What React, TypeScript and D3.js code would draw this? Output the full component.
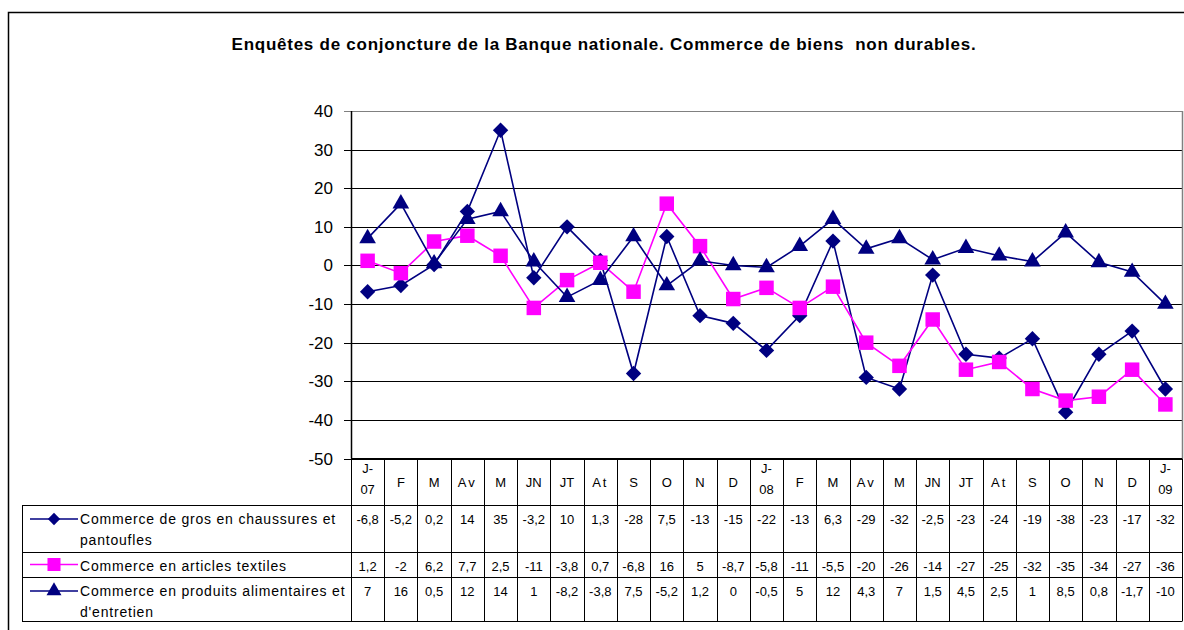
import React from 'react'
import * as d3 from 'd3'

const months = ['J-\n07', 'F', 'M', 'Av', 'M', 'JN', 'JT', 'At', 'S', 'O', 'N', 'D', 'J-\n08', 'F', 'M', 'Av', 'M', 'JN', 'JT', 'At', 'S', 'O', 'N', 'D', 'J-\n09']

const chaussures = [-6.8, -5.2, 0.2, 14, 35, -3.2, 10, 1.3, -28, 7.5, -13, -15, -22, -13, 6.3, -29, -32, -2.5, -23, -24, -19, -38, -23, -17, -32]
const textiles = [1.2, -2, 6.2, 7.7, 2.5, -11, -3.8, 0.7, -6.8, 16, 5, -8.7, -5.8, -11, -5.5, -20, -26, -14, -27, -25, -32, -35, -34, -27, -36]
const alimentaires = [7, 16, 0.5, 12, 14, 1, -8.2, -3.8, 7.5, -5.2, 1.2, 0, -0.5, 5, 12, 4.3, 7, 1.5, 4.5, 2.5, 1, 8.5, 0.8, -1.7, -10]

const yTicks = [40, 30, 20, 10, 0, -10, -20, -30, -40, -50]

const NAVY = '#000080'
const PINK = '#FF00FF'
const FONT = '"Liberation Sans", Arial, sans-serif'

const series = [
  { key: 'gros', label: ['Commerce de gros en chaussures et', 'pantoufles'], values: chaussures, color: NAVY, marker: 'diamond' },
  { key: 'tex', label: ['Commerce en articles textiles'], values: textiles, color: PINK, marker: 'square' },
  { key: 'alim', label: ['Commerce en produits alimentaires et', "d'entretien"], values: alimentaires, color: NAVY, marker: 'triangle' },
]

const fmt = (v: number) => String(v).replace('.', ',')

function markerPath(kind: string) {
  if (kind === 'diamond') return d3.symbol(d3.symbolSquare, 118)()
  if (kind === 'square') return d3.symbol(d3.symbolSquare, 210)()
  return d3.symbol(d3.symbolTriangle, 120)()
}

export default function App() {
  const left = 351
  const right = 1182
  const top = 111
  const bottom = 458.5
  const rows = [
    { y0: 505, y1: 552 },
    { y0: 552, y1: 577 },
    { y0: 577, y1: 621 },
  ]
  const legendLeft = 22

  const x = d3.scaleBand<number>().domain(months.map((_, i) => i)).range([left, right])
  const y = d3.scaleLinear().domain([-50, 40]).range([bottom, top])
  const cx = (i: number) => (x(i) as number) + x.bandwidth() / 2

  const line = d3.line<number>().x((_, i) => cx(i)).y(d => y(d))

  const colEdges = months.map((_, i) => x(i) as number).concat([right])

  return (
    <svg width={1184} height={630} style={{ position: 'absolute', left: 0, top: 0, background: '#fff' }} fontFamily={FONT}>
      <rect x={0} y={0} width={1184} height={630} fill="#fff" />
      {/* outer frame (clipped on right / bottom) */}
      <path d="M8.5,640 V12.5 H1200" fill="none" stroke="#000" strokeWidth={1.5} />

      <text x={604} y={50} textAnchor="middle" fontSize={17} fontWeight="bold" fill="#000" letterSpacing={0.75} xmlSpace="preserve" style={{ whiteSpace: 'pre' }}>
        {'Enquêtes de conjoncture de la Banque nationale. Commerce de biens  non durables.'}
      </text>

      {/* grid */}
      {yTicks.map(t => (
        <g key={t}>
          <line x1={left - 7} x2={right} y1={Math.round(y(t)) + 0.5} y2={Math.round(y(t)) + 0.5} stroke={t === 40 ? '#808080' : '#000'} strokeWidth={1} />
          <text x={333} y={y(t) + 6} textAnchor="end" fontSize={17} fill="#000">{t}</text>
        </g>
      ))}
      <line x1={right + 0.5} x2={right + 0.5} y1={top} y2={bottom} stroke="#808080" strokeWidth={1.5} />
      <line x1={left + 0.5} x2={left + 0.5} y1={top} y2={bottom} stroke="#000" strokeWidth={1.5} />

      {/* series */}
      {series.map(s => (
        <g key={s.key}>
          <path d={line(s.values) || ''} fill="none" stroke={s.color} strokeWidth={1.6} />
          {s.values.map((v, i) => (
            <path key={i} d={markerPath(s.marker) || ''} transform={`translate(${cx(i)},${y(v)})${s.marker === 'diamond' ? ' rotate(45)' : ''}`} fill={s.color} />
          ))}
        </g>
      ))}

      {/* data table */}
      <g stroke="#000" strokeWidth={1}>
        <line x1={left} x2={right} y1={bottom} y2={bottom} />
        {rows.map((r, i) => (
          <line key={i} x1={legendLeft} x2={right} y1={r.y0 + 0.5} y2={r.y0 + 0.5} />
        ))}
        <line x1={legendLeft} x2={right} y1={621.5} y2={621.5} />
        <line x1={legendLeft + 0.5} x2={legendLeft + 0.5} y1={rows[0].y0} y2={621.5} />
        {colEdges.map((e, i) => (
          <line key={i} x1={Math.round(e) + 0.5} x2={Math.round(e) + 0.5} y1={bottom} y2={621.5} />
        ))}
      </g>

      {months.map((m, i) => {
        const parts = m.split('\n')
        return parts.length === 1 ? (
          <text key={i} x={cx(i)} y={487} textAnchor="middle" fontSize={13} fill="#000" letterSpacing={m.length > 1 && m !== 'JN' && m !== 'JT' ? 2 : 0}>{m}</text>
        ) : (
          <text key={i} x={cx(i)} textAnchor="middle" fontSize={13} fill="#000">
            <tspan x={cx(i)} y={473}>{parts[0]}</tspan>
            <tspan x={cx(i)} y={494}>{parts[1]}</tspan>
          </text>
        )
      })}

      {series.map((s, si) => {
        const r = rows[si]
        const ty = r.y0 + 19
        const ky = r.y0 + (si === 1 ? 12.5 : 14)
        return (
          <g key={s.key}>
            <line x1={30} x2={78} y1={ky} y2={ky} stroke={s.color} strokeWidth={1.6} />
            <path d={markerPath(s.marker) || ''} transform={`translate(54,${ky})${s.marker === 'diamond' ? ' rotate(45) scale(0.8)' : ' scale(0.9)'}`} fill={s.color} />
            {s.label.map((l, li) => (
              <text key={li} x={80} y={ty + li * 21} fontSize={14} letterSpacing={0.8} fill="#000">{l}</text>
            ))}
            {s.values.map((v, i) => (
              <text key={i} x={cx(i)} y={ty} textAnchor="middle" fontSize={13} fill="#000">{fmt(v)}</text>
            ))}
          </g>
        )
      })}
    </svg>
  )
}
